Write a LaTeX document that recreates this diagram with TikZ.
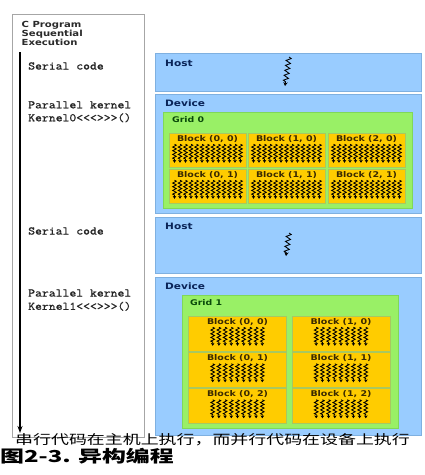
\documentclass[tikz,border=0pt]{standalone}
\usepackage{fontspec}
\usetikzlibrary{decorations.pathmorphing,arrows.meta}
\newfontfamily\lblfont[FakeStretch=1.2]{DejaVu Sans}
\newfontfamily\codefont[FakeStretch=1.16,FakeBold=1.2]{Latin Modern Mono}
\newfontfamily\cjkA[FakeStretch=1.38]{Noto Sans CJK SC}
\newfontfamily\cjkB[FakeStretch=1.45]{Noto Sans CJK SC}
\definecolor{hostblue}{HTML}{99CCFF}
\definecolor{hostedge}{HTML}{7FB0E0}
\definecolor{gridgreen}{HTML}{99F066}
\definecolor{gridedge}{HTML}{80D858}
\definecolor{blockyellow}{HTML}{FFCC00}
\definecolor{blockedge}{HTML}{A8C860}
\definecolor{navy}{HTML}{0A2458}
\definecolor{darkgreen}{HTML}{0A4A0A}
\definecolor{darkbrown}{HTML}{3A2A00}
\definecolor{titlegray}{HTML}{2A2A2A}
\newcommand\blockthreads[3]{\foreach \k in {#2}{\draw[thread] ([xshift=\k*#3,yshift=-11.5pt]#1.north) -- ++(0pt,-18.5pt);}}
\begin{document}
\begin{tikzpicture}[x=1pt,y=-1pt,
  hostbox/.style={draw=hostedge, fill=hostblue, line width=0.6pt, inner sep=0pt, minimum width=266pt},
  gridbox/.style={draw=gridedge, fill=gridgreen, line width=0.6pt, inner sep=0pt},
  block/.style={draw=blockedge, fill=blockyellow, line width=0.5pt, inner sep=0pt},
  hlbl/.style={font=\lblfont\bfseries\fontsize{8.8}{9}\selectfont, text=navy, inner sep=0pt, anchor=base west},
  glbl/.style={font=\lblfont\bfseries\fontsize{7.8}{8}\selectfont, text=darkgreen, inner sep=0pt, anchor=base west},
  blbl/.style={font=\lblfont\bfseries\fontsize{7.9}{8}\selectfont, text=darkbrown, inner sep=0pt, anchor=base},
  code/.style={font=\codefont\fontsize{11.5}{14}\selectfont, text=black!85, inner sep=0pt, anchor=base west},
  thread/.style={draw=black, line width=0.85pt, decorate,
    decoration={zigzag, segment length=3.7pt, amplitude=1.8pt, post length=2.5pt},
    -{Stealth[length=2.8pt,width=3.6pt]}},
  hostthread/.style={draw=black, line width=0.85pt, decorate,
    decoration={zigzag, segment length=5pt, amplitude=2.4pt, post length=3pt},
    -{Stealth[length=3.8pt,width=4.4pt]}},
  timearrow/.style={draw=black, line width=1.3pt, -{Stealth[length=7pt,width=5pt]}}
]
\useasboundingbox (0,0) rectangle (425,475);
\fill[white] (0,0) rectangle (425,475);

% left column
\node[draw=gray!70, line width=0.6pt, minimum width=132pt, minimum height=423pt, inner sep=0pt] (leftbox) at (78,225.5) {};
\node[font=\lblfont\bfseries\fontsize{8.4}{8.9}\selectfont, text=titlegray, align=left, anchor=north west, inner sep=0pt] (title) at (21.5,21.5) {C Program\\Sequential\\Execution};
\coordinate (tstart) at (20,52);
\coordinate (tend) at (20,433);
\draw[timearrow] (tstart) -- (tend);
\node[code] (ser1) at (28,69.5) {Serial code};
\node[code] (par1) at (28,108.3) {Parallel kernel};
\node[code] (ker0) at (28,121.3) {Kernel0<<<>>>()};
\node[code] (ser2) at (28,234.5) {Serial code};
\node[code] (par2) at (28,296.5) {Parallel kernel};
\node[code] (ker1) at (28,309.8) {Kernel1<<<>>>()};

% first host / device
\node[hostbox, minimum height=38pt] (host1) at (288,72) {};
\node[hlbl] (host1lbl) at (165,66) {Host};
\coordinate (h1a) at (289,57);
\coordinate (h1b) at (285,86);
\draw[hostthread] (h1a) -- (h1b);

\node[hostbox, minimum height=119pt] (dev1) at (288,153.5) {};
\node[hlbl] (dev1lbl) at (165,106.3) {Device};
\node[gridbox, minimum width=249pt, minimum height=96pt] (grid0) at (287.5,160) {};
\node[glbl] (grid0lbl) at (172,122) {Grid 0};
\foreach \c/\x in {0/207.5,1/286.5,2/366.5}{
  \foreach \r/\y in {0/150,1/186}{
    \node[block, minimum width=77pt, minimum height=34pt] (b\c\r) at (\x,\y) {};
    \node[blbl] (b\c\r lbl) at ([yshift=-8.5pt]b\c\r.north) {Block (\c, \r)};
    \blockthreads{b\c\r}{-6,...,6}{5.5pt}
  }
}

% second host / device
\node[hostbox, minimum height=56pt] (host2) at (288,245) {};
\node[hlbl] (host2lbl) at (165,229.3) {Host};
\coordinate (h2a) at (289,233);
\coordinate (h2b) at (286,256);
\draw[hostthread] (h2a) -- (h2b);

\node[hostbox, minimum height=158pt] (dev2) at (288,356) {};
\node[hlbl] (dev2lbl) at (165,289.3) {Device};
\node[gridbox, minimum width=216pt, minimum height=133pt] (grid1) at (290,361.5) {};
\node[glbl] (grid1lbl) at (190,305) {Grid 1};
\foreach \c/\x in {0/237.5,1/341}{
  \foreach \r/\y in {0/333.5,1/370,2/406}{
    \node[block, minimum width=98pt, minimum height=35pt] (c\c\r) at (\x,\y) {};
    \node[blbl] (c\c\r lbl) at ([yshift=-8.5pt]c\c\r.north) {Block (\c, \r)};
    \blockthreads{c\c\r}{-4,...,4}{6.2pt}
  }
}

% captions
\node[anchor=west, inner sep=0pt, font=\cjkA\fontsize{13}{13}\selectfont] (cap1) at (15,440) {串行代码在主机上执行，而并行代码在设备上执行};
\node[anchor=west, inner sep=0pt, font=\cjkB\bfseries\fontsize{16.5}{16.5}\selectfont] (cap2) at (0,456) {图2-3. 异构编程};
\end{tikzpicture}
\end{document}
